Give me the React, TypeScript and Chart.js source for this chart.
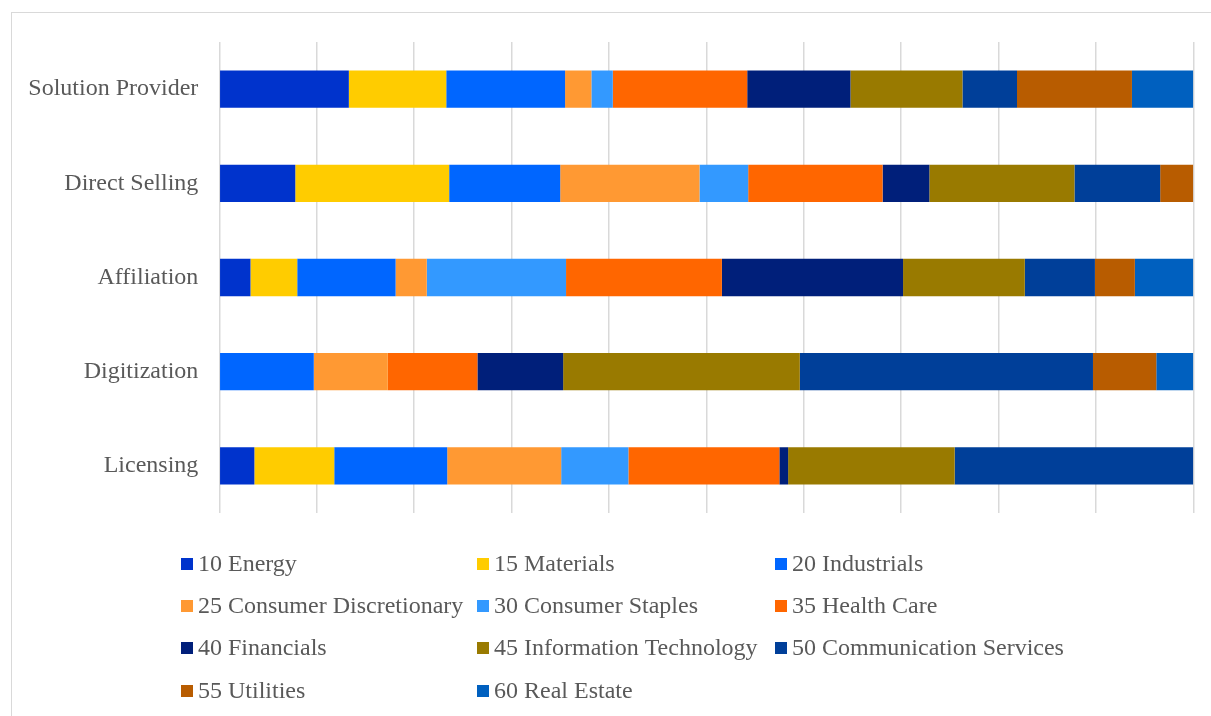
import React, { useEffect, useRef } from "react";
import { Chart, registerables } from "chart.js";

Chart.register(...registerables);

// Sales channels, top to bottom
const categories = ["Solution Provider", "Direct Selling", "Affiliation", "Digitization", "Licensing"];

// Share of each GICS sector per channel (percent of the bar)
const energy = [13.3, 7.8, 3.2, 0, 3.6];
const materials = [10.0, 15.8, 4.8, 0, 8.2];
const industrials = [12.2, 11.4, 10.1, 9.7, 11.6];
const consumerDiscretionary = [2.7, 14.3, 3.2, 7.6, 11.7];
const consumerStaples = [2.2, 5.0, 14.3, 0, 6.9];
const healthCare = [13.8, 13.8, 16.0, 9.2, 15.5];
const financials = [10.6, 4.8, 18.6, 8.8, 0.9];
const informationTechnology = [11.5, 14.9, 12.5, 24.3, 17.1];
const communicationServices = [5.6, 8.8, 7.2, 30.1, 24.5];
const utilities = [11.8, 3.4, 4.1, 6.5, 0];
const realEstate = [6.3, 0, 6.0, 3.8, 0];

const seriesNames = [
  "10 Energy",
  "15 Materials",
  "20 Industrials",
  "25 Consumer Discretionary",
  "30 Consumer Staples",
  "35 Health Care",
  "40 Financials",
  "45 Information Technology",
  "50 Communication Services",
  "55 Utilities",
  "60 Real Estate",
];

const seriesValues = [
  energy,
  materials,
  industrials,
  consumerDiscretionary,
  consumerStaples,
  healthCare,
  financials,
  informationTechnology,
  communicationServices,
  utilities,
  realEstate,
];

const seriesColors = [
  "#0033CC",
  "#FFCC00",
  "#0066FF",
  "#FF9933",
  "#3399FF",
  "#FF6600",
  "#001F7A",
  "#997A00",
  "#003F99",
  "#B85C00",
  "#0060BF",
];

const FONT = "'Liberation Serif', 'Times New Roman', serif";
const TEXT_COLOR = "#595959";

// Legend drawn as a fixed three-column grid below the plot
const gridLegend = {
  id: "gridLegend",
  afterDraw(chart: any) {
    const ctx = chart.ctx;
    const colX = [181, 477, 775];
    const rowY = [564, 606, 648, 691];
    const box = 12;
    ctx.save();
    ctx.font = `24px ${FONT}`;
    ctx.textBaseline = "middle";
    ctx.textAlign = "left";
    chart.data.datasets.forEach((ds: any, i: number) => {
      const col = i % 3;
      const row = Math.floor(i / 3);
      const x = colX[col];
      const y = rowY[row];
      ctx.fillStyle = ds.backgroundColor;
      ctx.fillRect(x, y - box / 2, box, box);
      ctx.fillStyle = TEXT_COLOR;
      ctx.fillText(ds.label, x + 17, y + 1);
    });
    ctx.restore();
  },
};

export default function App() {
  const canvasRef = useRef<HTMLCanvasElement | null>(null);

  useEffect(() => {
    if (!canvasRef.current) return;
    const chart = new Chart(canvasRef.current, {
      type: "bar",
      data: {
        labels: categories,
        datasets: seriesNames.map((name, i) => ({
          label: name,
          data: seriesValues[i],
          backgroundColor: seriesColors[i],
          borderWidth: 0,
          barPercentage: 0.396,
          categoryPercentage: 1,
        })),
      },
      options: {
        indexAxis: "y",
        animation: false,
        responsive: true,
        maintainAspectRatio: false,
        layout: { padding: { left: 0, top: 42, right: 17.7, bottom: 203 } },
        plugins: {
          legend: { display: false },
          tooltip: { enabled: false },
        },
        scales: {
          x: {
            stacked: true,
            min: 0,
            max: 100,
            ticks: { display: false, stepSize: 10 },
            grid: { color: "#d9d9d9", lineWidth: 1.5, drawTicks: false, tickLength: 0 },
            border: { display: false },
            afterFit(scale: any) {
              scale.height = 0;
            },
          },
          y: {
            stacked: true,
            grid: { display: false, drawTicks: false, tickLength: 0 },
            border: { display: false },
            ticks: {
              color: TEXT_COLOR,
              padding: 21,
              font: { family: FONT, size: 24 },
            },
            afterFit(scale: any) {
              scale.width = 219.3;
            },
          },
        },
      },
      plugins: [gridLegend],
    });
    return () => chart.destroy();
  }, []);

  return (
    <div
      style={{
        position: "fixed",
        left: 0,
        top: 0,
        width: 1211,
        height: 716,
        overflow: "hidden",
        background: "#ffffff",
      }}
    >
      <div
        style={{
          position: "absolute",
          left: 11,
          top: 12,
          width: 1300,
          height: 800,
          border: "1px solid #d9d9d9",
        }}
      />
      <div style={{ position: "absolute", left: 0, top: 0, width: 1211, height: 716 }}>
        <canvas ref={canvasRef} />
      </div>
    </div>
  );
}
